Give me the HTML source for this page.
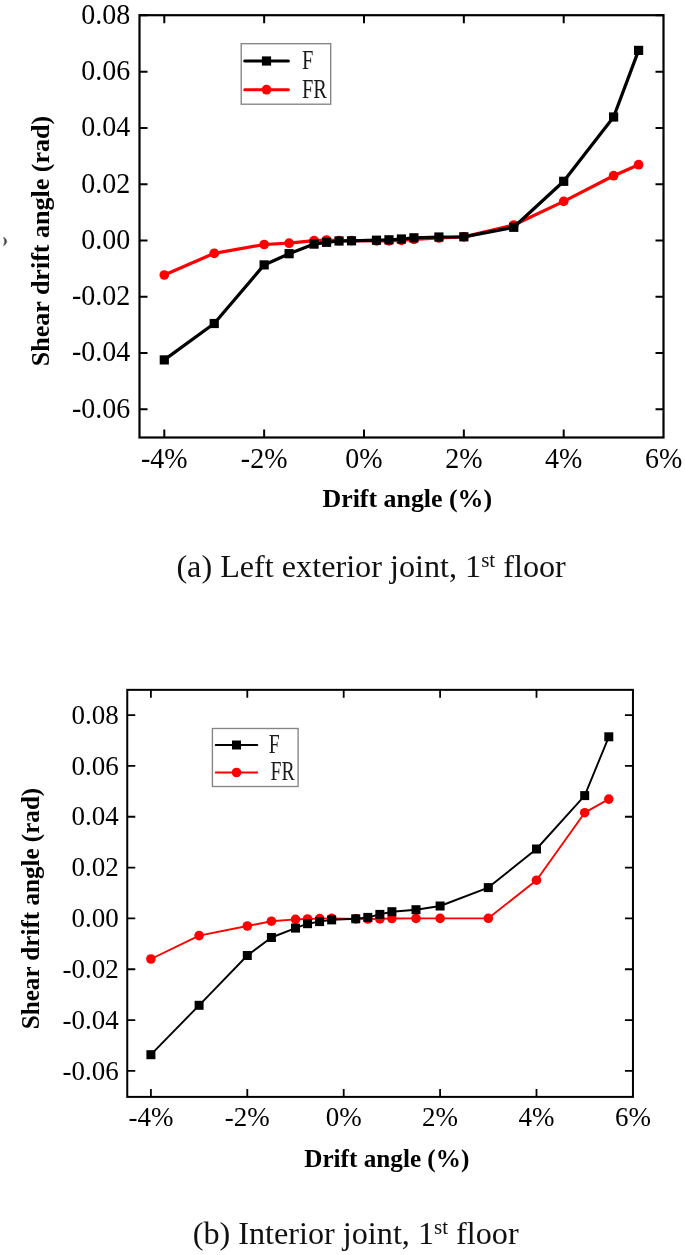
<!DOCTYPE html>
<html lang="en">
<head>
<meta charset="utf-8">
<title>Shear drift angle vs drift angle</title>
<style>
html,body{margin:0;padding:0;background:#fff;}
body{width:685px;height:1255px;overflow:hidden;font-family:"Liberation Serif",serif;}
svg{display:block;}
svg text{font-family:"Liberation Serif",serif;}
</style>
</head>
<body>
<svg width="685" height="1255" viewBox="0 0 685 1255">
<rect width="685" height="1255" fill="#fff"/>
<!-- chart a -->
<polyline fill="none" stroke="#ff0000" stroke-width="3.25" stroke-linejoin="round" points="164.3,275 214.23,253.3 264.15,244.5 289.11,243.2 314.07,240.6 326.56,240 339.04,240.6 351.52,240.6 376.48,240.8 388.96,240.8 401.44,240.4 413.93,239.4 438.89,238 463.85,236.8 513.77,225 563.7,201.4 613.62,175.7 638.59,164.7"/>
<circle cx="164.3" cy="275" r="4.85" fill="#ff0000"/>
<circle cx="214.23" cy="253.3" r="4.85" fill="#ff0000"/>
<circle cx="264.15" cy="244.5" r="4.85" fill="#ff0000"/>
<circle cx="289.11" cy="243.2" r="4.85" fill="#ff0000"/>
<circle cx="314.07" cy="240.6" r="4.85" fill="#ff0000"/>
<circle cx="326.56" cy="240" r="4.85" fill="#ff0000"/>
<circle cx="339.04" cy="240.6" r="4.85" fill="#ff0000"/>
<circle cx="351.52" cy="240.6" r="4.85" fill="#ff0000"/>
<circle cx="376.48" cy="240.8" r="4.85" fill="#ff0000"/>
<circle cx="388.96" cy="240.8" r="4.85" fill="#ff0000"/>
<circle cx="401.44" cy="240.4" r="4.85" fill="#ff0000"/>
<circle cx="413.93" cy="239.4" r="4.85" fill="#ff0000"/>
<circle cx="438.89" cy="238" r="4.85" fill="#ff0000"/>
<circle cx="463.85" cy="236.8" r="4.85" fill="#ff0000"/>
<circle cx="513.77" cy="225" r="4.85" fill="#ff0000"/>
<circle cx="563.7" cy="201.4" r="4.85" fill="#ff0000"/>
<circle cx="613.62" cy="175.7" r="4.85" fill="#ff0000"/>
<circle cx="638.59" cy="164.7" r="4.85" fill="#ff0000"/>
<polyline fill="none" stroke="#000" stroke-width="3.25" stroke-linejoin="round" points="164.3,359.9 214.23,323.5 264.15,264.9 289.11,253.7 314.07,244.1 326.56,242.3 339.04,241 351.52,240.8 376.48,240.2 388.96,239.8 401.44,239 413.93,237.8 438.89,237 463.85,236.8 513.77,227.3 563.7,181.3 613.62,117 638.59,50.4"/>
<rect x="159.7" y="355.3" width="9.2" height="9.2" fill="#000"/>
<rect x="209.63" y="318.9" width="9.2" height="9.2" fill="#000"/>
<rect x="259.55" y="260.3" width="9.2" height="9.2" fill="#000"/>
<rect x="284.51" y="249.1" width="9.2" height="9.2" fill="#000"/>
<rect x="309.47" y="239.5" width="9.2" height="9.2" fill="#000"/>
<rect x="321.96" y="237.7" width="9.2" height="9.2" fill="#000"/>
<rect x="334.44" y="236.4" width="9.2" height="9.2" fill="#000"/>
<rect x="346.92" y="236.2" width="9.2" height="9.2" fill="#000"/>
<rect x="371.88" y="235.6" width="9.2" height="9.2" fill="#000"/>
<rect x="384.36" y="235.2" width="9.2" height="9.2" fill="#000"/>
<rect x="396.84" y="234.4" width="9.2" height="9.2" fill="#000"/>
<rect x="409.32" y="233.2" width="9.2" height="9.2" fill="#000"/>
<rect x="434.29" y="232.4" width="9.2" height="9.2" fill="#000"/>
<rect x="459.25" y="232.2" width="9.2" height="9.2" fill="#000"/>
<rect x="509.17" y="222.7" width="9.2" height="9.2" fill="#000"/>
<rect x="559.1" y="176.7" width="9.2" height="9.2" fill="#000"/>
<rect x="609.02" y="112.4" width="9.2" height="9.2" fill="#000"/>
<rect x="633.99" y="45.8" width="9.2" height="9.2" fill="#000"/>
<rect x="139.5" y="15.2" width="524" height="422.3" fill="none" stroke="#000" stroke-width="2.2"/>
<path d="M164.3 437.5v-8M164.3 15.2v8M264.15 437.5v-8M264.15 15.2v8M364 437.5v-8M364 15.2v8M463.85 437.5v-8M463.85 15.2v8M563.7 437.5v-8M563.7 15.2v8M139.5 15.34h8M663.5 15.34h-8M139.5 71.63h8M663.5 71.63h-8M139.5 127.92h8M663.5 127.92h-8M139.5 184.21h8M663.5 184.21h-8M139.5 240.5h8M663.5 240.5h-8M139.5 296.79h8M663.5 296.79h-8M139.5 353.08h8M663.5 353.08h-8M139.5 409.37h8M663.5 409.37h-8" stroke="#000" stroke-width="2" fill="none"/>
<g font-size="28" fill="#000">
<text transform="translate(130.2 23.64) scale(1 1.03)" text-anchor="end">0.08</text>
<text transform="translate(130.2 79.93) scale(1 1.03)" text-anchor="end">0.06</text>
<text transform="translate(130.2 136.22) scale(1 1.03)" text-anchor="end">0.04</text>
<text transform="translate(130.2 192.51) scale(1 1.03)" text-anchor="end">0.02</text>
<text transform="translate(130.2 248.8) scale(1 1.03)" text-anchor="end">0.00</text>
<text transform="translate(130.2 305.09) scale(1 1.03)" text-anchor="end">-0.02</text>
<text transform="translate(130.2 361.38) scale(1 1.03)" text-anchor="end">-0.04</text>
<text transform="translate(130.2 417.67) scale(1 1.03)" text-anchor="end">-0.06</text>
<text transform="translate(164.3 467.8) scale(1 1.03)" text-anchor="middle">-4%</text>
<text transform="translate(264.15 467.8) scale(1 1.03)" text-anchor="middle">-2%</text>
<text transform="translate(364 467.8) scale(1 1.03)" text-anchor="middle">0%</text>
<text transform="translate(463.85 467.8) scale(1 1.03)" text-anchor="middle">2%</text>
<text transform="translate(563.7 467.8) scale(1 1.03)" text-anchor="middle">4%</text>
<text transform="translate(663.55 467.8) scale(1 1.03)" text-anchor="middle">6%</text>
</g>
<text x="407.3" y="507.2" font-size="25.9" font-weight="bold" text-anchor="middle">Drift angle (%)</text>
<text transform="translate(49.1 241) rotate(-90)" font-size="26.05" font-weight="bold" text-anchor="middle">Shear drift angle (rad)</text>
<rect x="241.2" y="43.7" width="89.5" height="60.5" fill="#fff" stroke="#858585" stroke-width="1.35"/>
<path d="M244.7 61H288.4" stroke="#000" stroke-width="3" stroke-linecap="round"/>
<rect x="261.9" y="56.4" width="9.2" height="9.2" fill="#000"/>
<path d="M244.7 89.7H288.4" stroke="#ff0000" stroke-width="3" stroke-linecap="round"/>
<circle cx="266.5" cy="89.7" r="4.85" fill="#ff0000"/>
<text transform="translate(301.9 69) scale(0.735 1)" font-size="27.8" fill="#1a1a1a">F</text>
<text transform="translate(301.9 97.7) scale(0.735 1)" font-size="27.8" fill="#1a1a1a">FR</text>
<path d="M3.5 237.1Q10.2 241.4 3.5 245.8Q6.0 241.4 3.5 237.1Z" fill="#444" stroke="#444" stroke-width="0.5" stroke-linejoin="round"/>
<text x="176.4" y="577" font-size="32.2" fill="#111">(a) Left exterior joint, 1<tspan font-size="21" dy="-10.5">st</tspan><tspan dy="10.5"> floor</tspan></text>
<!-- chart b -->
<polyline fill="none" stroke="#ff0000" stroke-width="1.9" stroke-linejoin="round" points="150.9,959 199.1,935.6 247.3,926 271.4,921.2 295.5,919.4 307.55,919 319.6,918.6 331.65,918.4 355.75,918.9 367.8,919 379.85,918.9 391.9,918.5 416,918.4 440.1,918.4 488.3,918.3 536.5,880.2 584.7,812.7 608.8,799.1"/>
<circle cx="150.9" cy="959" r="4.8" fill="#ff0000"/>
<circle cx="199.1" cy="935.6" r="4.8" fill="#ff0000"/>
<circle cx="247.3" cy="926" r="4.8" fill="#ff0000"/>
<circle cx="271.4" cy="921.2" r="4.8" fill="#ff0000"/>
<circle cx="295.5" cy="919.4" r="4.8" fill="#ff0000"/>
<circle cx="307.55" cy="919" r="4.8" fill="#ff0000"/>
<circle cx="319.6" cy="918.6" r="4.8" fill="#ff0000"/>
<circle cx="331.65" cy="918.4" r="4.8" fill="#ff0000"/>
<circle cx="355.75" cy="918.9" r="4.8" fill="#ff0000"/>
<circle cx="367.8" cy="919" r="4.8" fill="#ff0000"/>
<circle cx="379.85" cy="918.9" r="4.8" fill="#ff0000"/>
<circle cx="391.9" cy="918.5" r="4.8" fill="#ff0000"/>
<circle cx="416" cy="918.4" r="4.8" fill="#ff0000"/>
<circle cx="440.1" cy="918.4" r="4.8" fill="#ff0000"/>
<circle cx="488.3" cy="918.3" r="4.8" fill="#ff0000"/>
<circle cx="536.5" cy="880.2" r="4.8" fill="#ff0000"/>
<circle cx="584.7" cy="812.7" r="4.8" fill="#ff0000"/>
<circle cx="608.8" cy="799.1" r="4.8" fill="#ff0000"/>
<polyline fill="none" stroke="#000" stroke-width="1.9" stroke-linejoin="round" points="150.9,1054.7 199.1,1005.3 247.3,955.5 271.4,937.5 295.5,928.1 307.55,923.7 319.6,921.6 331.65,919.9 355.75,918.8 367.8,917.4 379.85,914.4 391.9,911.7 416,909.7 440.1,906 488.3,887.6 536.5,849 584.7,795.6 608.8,736.8"/>
<rect x="146.4" y="1050.2" width="9.0" height="9.0" fill="#000"/>
<rect x="194.6" y="1000.8" width="9.0" height="9.0" fill="#000"/>
<rect x="242.8" y="951" width="9.0" height="9.0" fill="#000"/>
<rect x="266.9" y="933" width="9.0" height="9.0" fill="#000"/>
<rect x="291" y="923.6" width="9.0" height="9.0" fill="#000"/>
<rect x="303.05" y="919.2" width="9.0" height="9.0" fill="#000"/>
<rect x="315.1" y="917.1" width="9.0" height="9.0" fill="#000"/>
<rect x="327.15" y="915.4" width="9.0" height="9.0" fill="#000"/>
<rect x="351.25" y="914.3" width="9.0" height="9.0" fill="#000"/>
<rect x="363.3" y="912.9" width="9.0" height="9.0" fill="#000"/>
<rect x="375.35" y="909.9" width="9.0" height="9.0" fill="#000"/>
<rect x="387.4" y="907.2" width="9.0" height="9.0" fill="#000"/>
<rect x="411.5" y="905.2" width="9.0" height="9.0" fill="#000"/>
<rect x="435.6" y="901.5" width="9.0" height="9.0" fill="#000"/>
<rect x="483.8" y="883.1" width="9.0" height="9.0" fill="#000"/>
<rect x="532" y="844.5" width="9.0" height="9.0" fill="#000"/>
<rect x="580.2" y="791.1" width="9.0" height="9.0" fill="#000"/>
<rect x="604.3" y="732.3" width="9.0" height="9.0" fill="#000"/>
<rect x="127.25" y="689.85" width="505.7" height="407.05" fill="none" stroke="#000" stroke-width="2.0"/>
<path d="M150.9 1096.9v-8M150.9 689.85v8M247.3 1096.9v-8M247.3 689.85v8M343.7 1096.9v-8M343.7 689.85v8M440.1 1096.9v-8M440.1 689.85v8M536.5 1096.9v-8M536.5 689.85v8M127.25 715.08h8M632.95 715.08h-8M127.25 765.91h8M632.95 765.91h-8M127.25 816.74h8M632.95 816.74h-8M127.25 867.57h8M632.95 867.57h-8M127.25 918.4h8M632.95 918.4h-8M127.25 969.23h8M632.95 969.23h-8M127.25 1020.06h8M632.95 1020.06h-8M127.25 1070.89h8M632.95 1070.89h-8" stroke="#000" stroke-width="1.8" fill="none"/>
<g font-size="27" fill="#000">
<text transform="translate(118.8 723.73) scale(1 1.04)" text-anchor="end">0.08</text>
<text transform="translate(118.8 774.56) scale(1 1.04)" text-anchor="end">0.06</text>
<text transform="translate(118.8 825.39) scale(1 1.04)" text-anchor="end">0.04</text>
<text transform="translate(118.8 876.22) scale(1 1.04)" text-anchor="end">0.02</text>
<text transform="translate(118.8 927.05) scale(1 1.04)" text-anchor="end">0.00</text>
<text transform="translate(118.8 977.88) scale(1 1.04)" text-anchor="end">-0.02</text>
<text transform="translate(118.8 1028.71) scale(1 1.04)" text-anchor="end">-0.04</text>
<text transform="translate(118.8 1079.54) scale(1 1.04)" text-anchor="end">-0.06</text>
<text transform="translate(150.9 1125.7) scale(1 1.04)" text-anchor="middle">-4%</text>
<text transform="translate(247.3 1125.7) scale(1 1.04)" text-anchor="middle">-2%</text>
<text transform="translate(343.7 1125.7) scale(1 1.04)" text-anchor="middle">0%</text>
<text transform="translate(440.1 1125.7) scale(1 1.04)" text-anchor="middle">2%</text>
<text transform="translate(536.5 1125.7) scale(1 1.04)" text-anchor="middle">4%</text>
<text transform="translate(632.9 1125.7) scale(1 1.04)" text-anchor="middle">6%</text>
</g>
<text x="386.8" y="1167.2" font-size="25.2" font-weight="bold" text-anchor="middle">Drift angle (%)</text>
<text transform="translate(39.1 908.5) rotate(-90)" font-size="25.1" font-weight="bold" text-anchor="middle">Shear drift angle (rad)</text>
<rect x="212.4" y="728.5" width="85.7" height="58" fill="#fff" stroke="#858585" stroke-width="1.35"/>
<path d="M215.7 745H257.3" stroke="#000" stroke-width="1.9" stroke-linecap="round"/>
<rect x="232" y="740.5" width="9.0" height="9.0" fill="#000"/>
<path d="M215.7 772.5H257.3" stroke="#ff0000" stroke-width="1.9" stroke-linecap="round"/>
<circle cx="236.5" cy="772.5" r="4.8" fill="#ff0000"/>
<text transform="translate(268.8 753.1) scale(0.75 1)" font-size="26.3" fill="#1a1a1a">F</text>
<text transform="translate(270.5 780.2) scale(0.75 1)" font-size="26.3" fill="#1a1a1a">FR</text>
<text x="192.7" y="1244" font-size="32.2" fill="#111">(b) Interior joint, 1<tspan font-size="21" dy="-10.5">st</tspan><tspan dy="10.5"> floor</tspan></text>
</svg>
</body>
</html>
